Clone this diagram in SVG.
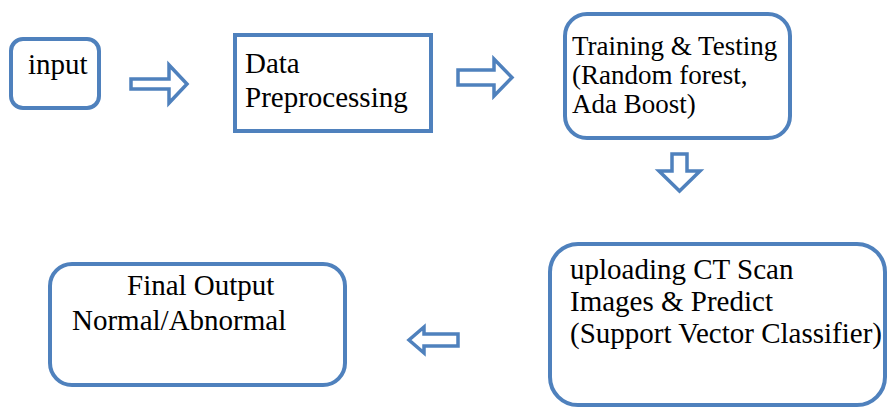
<svg xmlns="http://www.w3.org/2000/svg" width="887" height="408" viewBox="0 0 887 408">
<style>
.box{fill:#fff;stroke:#4F81BD;stroke-width:4}
.arr{fill:#fff;stroke:#4F81BD;stroke-width:3.5;stroke-linejoin:miter}
text{font-family:"Liberation Serif","Times New Roman",serif;font-size:29px;fill:#000}
.t27{font-size:27px}
</style>
<rect width="887" height="408" fill="#fff"/>
<g id="input">
<rect class="box" x="11" y="39" width="88" height="69" rx="12"/>
<text x="28" y="74">input</text>
</g>
<g id="preprocessing">
<rect class="box" x="235" y="35" width="196" height="96"/>
<text x="245" y="73">Data</text>
<text x="245" y="107">Preprocessing</text>
</g>
<g id="training">
<rect class="box" x="565" y="14" width="225" height="124" rx="22"/>
<text class="t27" x="572" y="55">Training &amp; Testing</text>
<text class="t27" x="572" y="84">(Random forest,</text>
<text class="t27" x="572" y="113">Ada Boost)</text>
</g>
<g id="upload">
<rect class="box" x="550" y="244" width="335" height="161" rx="28"/>
<text x="570" y="279">uploading CT Scan</text>
<text x="570" y="311">Images &amp; Predict</text>
<text x="570" y="343">(Support Vector Classifier)</text>
</g>
<g id="final">
<rect class="box" x="50" y="264" width="295" height="121" rx="22"/>
<text x="127" y="295">Final Output</text>
<text x="72" y="330">Normal/Abnormal</text>
</g>
<g id="connectors">
<path class="arr" d="M131,79 H169 V65 L187,84 L169,103 V89 H131 Z"/>
<path class="arr" d="M458,70 H494 V59 L512,77.5 L494,96 V85 H458 Z"/>
<path class="arr" d="M672,154 H687 V171 H700 L679.5,191 L659,171 H672 Z"/>
<path class="arr" d="M458,334 H424 V327 L409,340 L424,353 V346 H458 Z"/>
</g>
</svg>
